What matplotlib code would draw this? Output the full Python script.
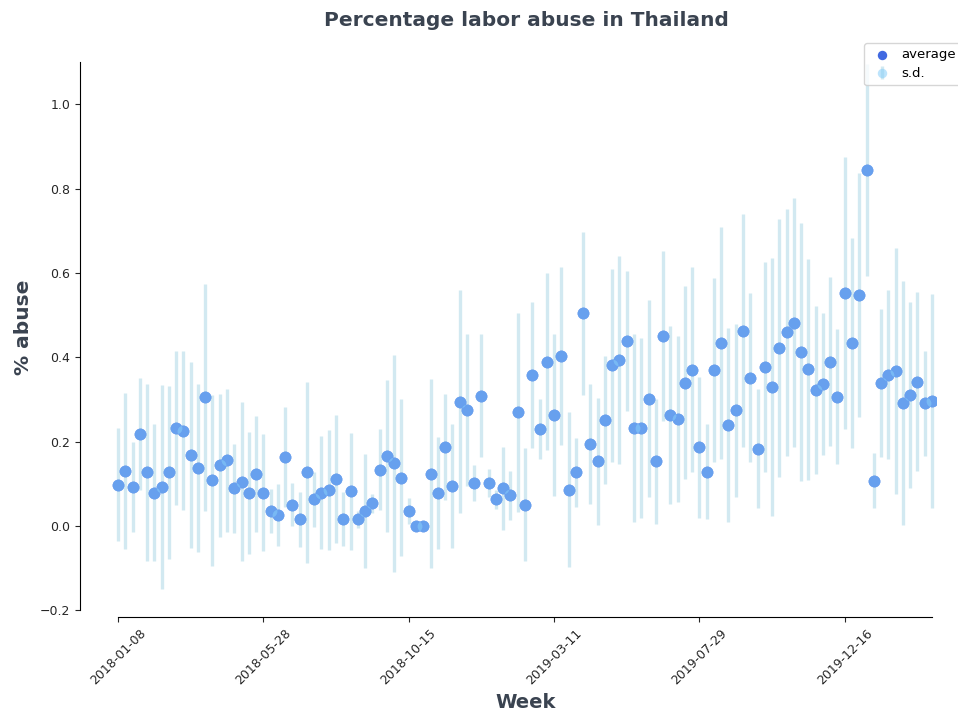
import numpy as np
import matplotlib.pyplot as plt

# weekly mean share of abuse reports and its standard deviation
avg = [0.098, 0.131, 0.092, 0.219, 0.127, 0.079, 0.092, 0.127, 0.232, 0.226,
       0.169, 0.137, 0.305, 0.108, 0.144, 0.156, 0.089, 0.105, 0.079, 0.124,
       0.079, 0.036, 0.026, 0.163, 0.051, 0.016, 0.127, 0.063, 0.079, 0.086,
       0.112, 0.016, 0.082, 0.016, 0.036, 0.054, 0.134, 0.166, 0.149, 0.115,
       0.036, 0.0, 0.0, 0.124, 0.079, 0.187, 0.096, 0.295, 0.276, 0.102,
       0.309, 0.102, 0.063, 0.089, 0.073, 0.270, 0.051, 0.358, 0.229, 0.390,
       0.264, 0.403, 0.086, 0.127, 0.504, 0.194, 0.153, 0.251, 0.381, 0.393,
       0.438, 0.232, 0.232, 0.302, 0.153, 0.450, 0.264, 0.254, 0.340, 0.371,
       0.187, 0.129, 0.370, 0.434, 0.240, 0.275, 0.463, 0.352, 0.183, 0.377,
       0.330, 0.422, 0.459, 0.482, 0.412, 0.372, 0.323, 0.336, 0.390, 0.307,
       0.552, 0.434, 0.548, 0.844, 0.107, 0.339, 0.359, 0.367, 0.291, 0.311,
       0.342, 0.291, 0.297]
sd = [0.134, 0.185, 0.107, 0.133, 0.209, 0.162, 0.242, 0.204, 0.182, 0.188,
      0.221, 0.199, 0.269, 0.203, 0.170, 0.169, 0.106, 0.188, 0.145, 0.137,
      0.139, 0.052, 0.073, 0.119, 0.052, 0.065, 0.215, 0.066, 0.134, 0.142,
      0.152, 0.064, 0.139, 0.020, 0.135, 0.023, 0.095, 0.181, 0.257, 0.186,
      0.031, 0.0, 0.0, 0.224, 0.133, 0.125, 0.147, 0.265, 0.180, 0.042,
      0.146, 0.033, 0.023, 0.099, 0.058, 0.236, 0.133, 0.172, 0.071, 0.209,
      0.192, 0.212, 0.184, 0.082, 0.194, 0.142, 0.150, 0.151, 0.229, 0.246,
      0.166, 0.223, 0.213, 0.233, 0.148, 0.202, 0.211, 0.196, 0.229, 0.242,
      0.167, 0.112, 0.218, 0.275, 0.230, 0.205, 0.276, 0.201, 0.141, 0.249,
      0.306, 0.305, 0.292, 0.295, 0.306, 0.262, 0.199, 0.168, 0.201, 0.159,
      0.323, 0.249, 0.290, 0.251, 0.065, 0.175, 0.201, 0.291, 0.289, 0.220,
      0.212, 0.125, 0.254]

# every 20th week gets a label
tick_pos = [0, 20, 40, 60, 80, 100]
tick_labels = ['2018-01-08', '2018-05-28', '2018-10-15',
               '2019-03-11', '2019-07-29', '2019-12-16']

text_col = '#3a4350'
x = np.arange(len(avg))

fig = plt.figure(figsize=(9.58, 7.17), dpi=100)
ax = fig.add_axes([0.0835, 0.1395, 0.8935, 0.774])

# solid mean points underneath, translucent errorbar markers on top of them
sc = ax.scatter(x, avg, s=72, color='royalblue', linewidths=0,
                label='average', zorder=2)
eb = ax.errorbar(x, avg, yerr=sd, fmt='o', color='lightskyblue', ecolor='lightblue',
                 elinewidth=2.4, markersize=8.5, markeredgewidth=0, alpha=0.55,
                 label='s.d.', zorder=1)
eb[0].set_zorder(3)

ax.set_xlim(-5.23, 112.55)
ax.set_ylim(-0.2156, 1.1)
ax.spines['top'].set_visible(False)
ax.spines['right'].set_visible(False)
ax.spines['bottom'].set_bounds(0, len(avg) - 1)
ax.spines['left'].set_bounds(-0.2, 1.1)

ax.set_yticks([-0.2, 0.0, 0.2, 0.4, 0.6, 0.8, 1.0])
ax.set_xticks(tick_pos)
ax.set_xticklabels(tick_labels, rotation=45, ha='center')
ax.tick_params(labelsize=9, colors='#262626', length=3.5)

ax.set_xlabel('Week', fontsize=14, fontweight='bold', color=text_col, va='center')
ax.set_ylabel('% abuse', fontsize=14.5, fontweight='bold', color=text_col, va='center')
ax.xaxis.set_label_coords(526 / 958, 1 - 703 / 717, transform=fig.transFigure)
ax.yaxis.set_label_coords(24 / 958, 1 - 327 / 717, transform=fig.transFigure)
fig.text(526 / 958, 1 - 20 / 717, 'Percentage labor abuse in Thailand',
         ha='center', va='center', fontsize=14.5, fontweight='bold', color=text_col)

# legend sticks out past the right edge of the figure
ax.legend([sc, eb], ['average', 's.d.'], loc='upper left', fontsize=9.5,
          markerscale=0.8, handlelength=2.0, handletextpad=0.45, labelspacing=0.45,
          borderaxespad=0,
          bbox_to_anchor=(864 / 958, 1 - 43 / 717), bbox_transform=fig.transFigure)

plt.savefig('out.png', dpi=100)
